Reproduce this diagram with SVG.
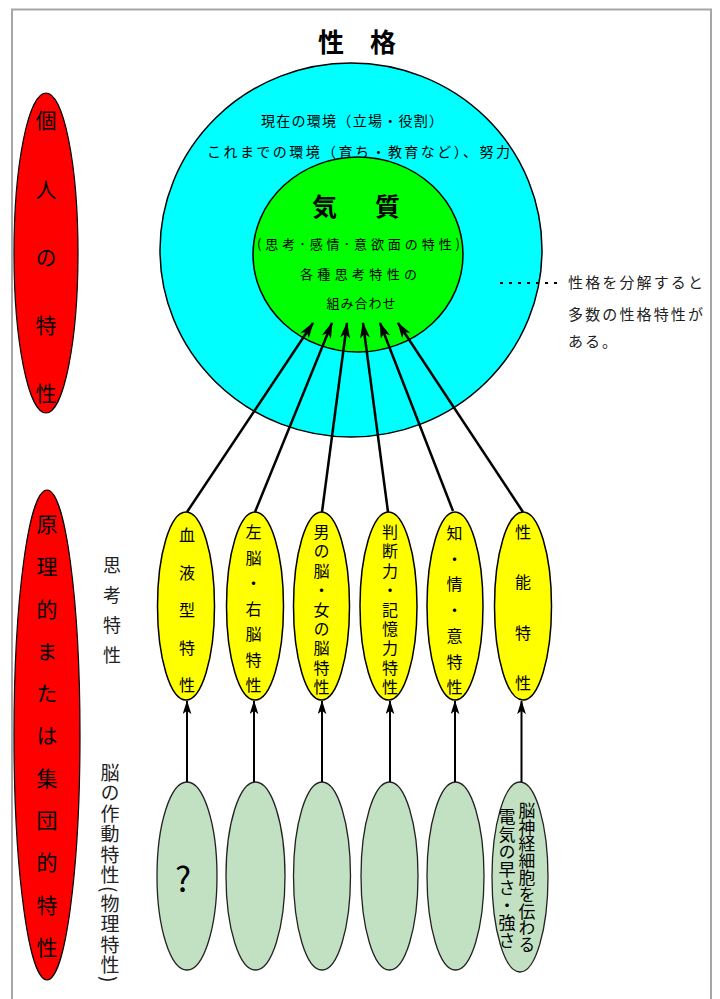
<svg xmlns="http://www.w3.org/2000/svg" width="720" height="999" viewBox="0 0 720 999">
<style>
text{font-family:"Noto Sans CJK JP","Noto Sans",sans-serif;fill:#000}
.v{writing-mode:vertical-rl}
.t14{font-size:14px}
.t13{font-size:13px}
.red{fill:#ff0000;stroke:#000;stroke-width:1.2}
.yel{fill:#ffff00;stroke:#000;stroke-width:1.5}
.grn{fill:#c2e0c2;stroke:#222;stroke-width:1.3}
.yt{font-size:16px}
.rt{font-size:21px}
.lab{fill:#222}
.arr{stroke:#000;stroke-width:2.5;fill:none;marker-end:url(#ah)}
.arr2{stroke:#000;stroke-width:2;fill:none;marker-end:url(#ah2)}
</style>
<defs>
<marker id="ah" viewBox="0 0 16 10" markerUnits="userSpaceOnUse" markerWidth="17" markerHeight="10" refX="15" refY="5" orient="auto">
<path d="M0,0 L16,5 L0,10 L4,5 Z" fill="#000"/>
</marker>
<marker id="ah2" viewBox="0 0 16 10" markerUnits="userSpaceOnUse" markerWidth="14" markerHeight="9" refX="15" refY="5" orient="auto">
<path d="M0,0 L16,5 L0,10 L4,5 Z" fill="#000"/>
</marker>
</defs>
<rect x="0" y="0" width="720" height="999" fill="#fff"/>
<g id="frame"><path d="M12,1010 V9.5 H711 V1010" fill="none" stroke="#a6a6a6" stroke-width="2"/></g>

<g id="title"><text x="357" y="52" text-anchor="middle" font-size="26" font-weight="700">性　格</text></g>

<g id="personality">
<ellipse cx="351" cy="250" rx="191" ry="187" fill="#00ffff" stroke="#000" stroke-width="1.5"/>
<text class="t14" x="352" y="126" text-anchor="middle" textLength="182" lengthAdjust="spacing">現在の環境（立場・役割）</text>
<text class="t14" x="358.5" y="157" text-anchor="middle" textLength="303" lengthAdjust="spacing">これまでの環境（育ち・教育など）、努力</text>
</g>

<g id="temperament">
<ellipse cx="358" cy="254.5" rx="105" ry="97.5" fill="#00ff00" stroke="#000" stroke-width="1.5"/>
<text x="356" y="216" text-anchor="middle" font-size="25" font-weight="700" textLength="88" lengthAdjust="spacing">気　質</text>
<text class="t13" x="358.5" y="249" text-anchor="middle" textLength="203" lengthAdjust="spacing">(思考･感情･意欲面の特性)</text>
<text class="t13" x="358.5" y="279" text-anchor="middle" textLength="117" lengthAdjust="spacing">各種思考特性の</text>
<text class="t13" x="361" y="308" text-anchor="middle" textLength="69" lengthAdjust="spacing">組み合わせ</text>
</g>

<g id="note">
<line x1="500" y1="283" x2="563" y2="283" stroke="#000" stroke-width="2" stroke-dasharray="3,6"/>
<text class="lab" x="568" y="288" font-size="15" textLength="135" lengthAdjust="spacing">性格を分解すると</text>
<text class="lab" x="568" y="320" font-size="15" textLength="135" lengthAdjust="spacing">多数の性格特性が</text>
<text class="lab" x="568" y="347" font-size="15" letter-spacing="2">ある。</text>
</g>

<g id="individual">
<ellipse class="red" cx="46" cy="253" rx="32" ry="160"/>
<text class="v rt" x="46" y="110" letter-spacing="47.25">個人の特性</text>
</g>

<g id="principle">
<ellipse class="red" cx="47" cy="735" rx="33" ry="245"/>
<text class="v rt" x="47" y="513.5" letter-spacing="21.3">原理的または集団的特性</text>
</g>

<g id="label-thinking"><text class="v lab" x="112" y="556" font-size="18" letter-spacing="12">思考特性</text></g>
<g id="label-brain"><text class="v lab" x="110" y="763" font-size="19" letter-spacing="1.5">脳の作動特性(物理特性)</text></g>

<g id="trait-1"><ellipse class="yel" cx="186" cy="606" rx="28.5" ry="94"/><text class="v yt" x="187" y="527" letter-spacing="21.5">血液型特性</text></g>
<g id="trait-2"><ellipse class="yel" cx="255" cy="606" rx="28.5" ry="94"/><text class="v yt" x="253.5" y="524" letter-spacing="9.5">左脳・右脳特性</text></g>
<g id="trait-3"><ellipse class="yel" cx="321.5" cy="606" rx="28" ry="94"/><text class="v yt" x="321.5" y="524" letter-spacing="3.4">男の脳・女の脳特性</text></g>
<g id="trait-4"><ellipse class="yel" cx="388.5" cy="606" rx="28.5" ry="94"/><text class="v yt" x="390" y="524" letter-spacing="3.4">判断力・記憶力特性</text></g>
<g id="trait-5"><ellipse class="yel" cx="455" cy="606" rx="28" ry="94"/><text class="v yt" x="454.5" y="525" letter-spacing="9.7">知・情・意特性</text></g>
<g id="trait-6"><ellipse class="yel" cx="523" cy="606" rx="28.5" ry="94"/><text class="v yt" x="523" y="524" letter-spacing="34.3">性能特性</text></g>

<g id="brain-1"><ellipse class="grn" cx="187" cy="876" rx="30" ry="94"/><text x="183" y="892" text-anchor="middle" font-family="Liberation Sans, sans-serif" font-size="34">?</text></g>
<g id="brain-2"><ellipse class="grn" cx="255.5" cy="876" rx="29.5" ry="94"/></g>
<g id="brain-3"><ellipse class="grn" cx="322" cy="876" rx="28.5" ry="94"/></g>
<g id="brain-4"><ellipse class="grn" cx="389.5" cy="876" rx="28.5" ry="94"/></g>
<g id="brain-5"><ellipse class="grn" cx="455.5" cy="876" rx="28.5" ry="94"/></g>
<g id="brain-6"><ellipse class="grn" cx="520" cy="877" rx="28" ry="95"/>
<text class="v" x="527" y="802" font-size="16.8">脳神経細胞を伝わる</text>
<text class="v" x="507" y="808" font-size="17" letter-spacing="0.75">電気の早さ・強さ</text>
</g>

<g id="connectors">
<line class="arr" x1="187" y1="512" x2="313" y2="323"/>
<line class="arr" x1="255" y1="512" x2="332" y2="323"/>
<line class="arr" x1="322" y1="512" x2="347" y2="323"/>
<line class="arr" x1="388" y1="512" x2="363" y2="323"/>
<line class="arr" x1="453" y1="511" x2="380" y2="323"/>
<line class="arr" x1="523" y1="512" x2="398" y2="323"/>
<line class="arr2" x1="187" y1="782" x2="187" y2="701"/>
<line class="arr2" x1="254" y1="782" x2="254" y2="701"/>
<line class="arr2" x1="322" y1="782" x2="322" y2="701"/>
<line class="arr2" x1="390" y1="782" x2="390" y2="701"/>
<line class="arr2" x1="455" y1="782" x2="455" y2="701"/>
<line class="arr2" x1="521.5" y1="782" x2="521.5" y2="701"/>
</g>
</svg>
